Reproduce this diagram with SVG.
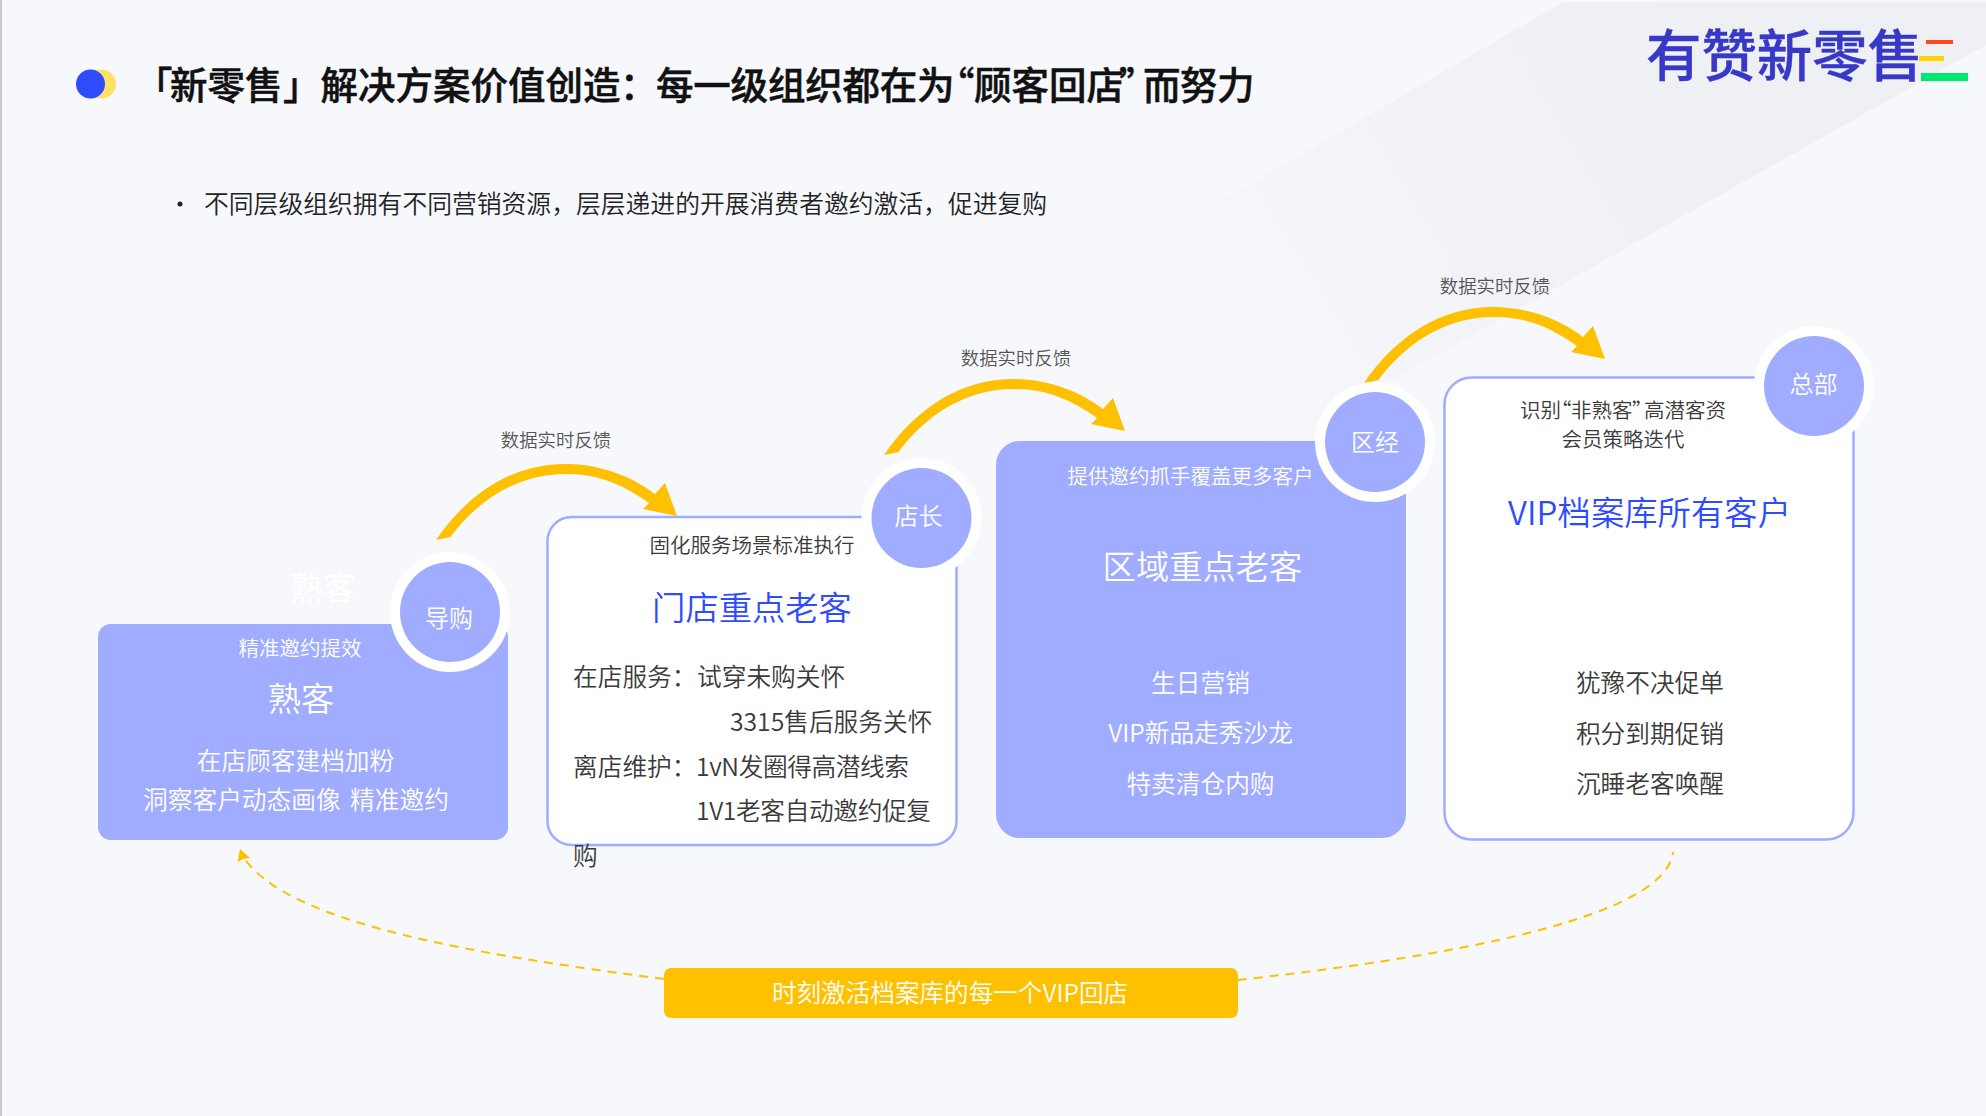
<svg xmlns="http://www.w3.org/2000/svg" width="1986" height="1116" viewBox="0 0 1986 1116">
<style>
text{font-family:"Noto Sans CJK SC","Noto Sans",sans-serif;font-weight:350}
.m{text-anchor:middle}
.w{fill:#fff}
.d{fill:#3a3a3a}
.b{fill:#2f4bff}
.l{fill:#555;font-size:18.4px}
.s20{font-size:20.5px}
.s24{font-size:24.7px}
.s32{font-size:33.3px}
.box{fill:#9facff}
.obox{fill:#fff;stroke:#9facff;stroke-width:2.5}
.halo{fill:#fff}
.c{fill:#9facff}
.flow{fill:#ffc000}
.dash{fill:none;stroke:#ffc000;stroke-width:2;stroke-dasharray:9 7}
</style>
<defs>
<linearGradient id="band" gradientUnits="userSpaceOnUse" x1="1760" y1="70" x2="1180" y2="420">
<stop offset="0" stop-color="#e9eaee" stop-opacity=".6"/>
<stop offset=".45" stop-color="#e9eaee" stop-opacity=".4"/>
<stop offset="1" stop-color="#e9eaee" stop-opacity="0"/>
</linearGradient>
<path id="swoosh" d="M436,540C470,490 517,463 568,464C602,465 631,476 655,494L665,483L677,516L643,509L649,503C625,486 600,474 568,474C522,473 480,497 450.5,537Z"/>
</defs>
<rect width="1986" height="1116" fill="#f6f8fc"/>
<rect width="2" height="1116" fill="#c9c9cd"/>
<polygon points="1563,2 1986,2 1986,45 1180,500 1000,330" fill="url(#band)"/>
<g id="header">
<circle cx="101.500" cy="84" r="14.500" fill="#ffe066"/>
<circle cx="90.500" cy="84" r="14.500" fill="#2f4bff"/>
<text y="99" font-size="37.500" fill="#111" stroke="#111" stroke-width=".5" style="font-weight:500" x="135 170 207.500 245 283 320.500 358 395.500 433 470.500 508 545.500 583 620 656 693.300 730.600 767.900 805.200 842.500 879.800 917.100 937 974 1011.500 1049 1086.500 1119 1143 1180 1217">「新零售」解决方案价值创造：每一级组织都在为“顾客回店”而努力</text>
<circle cx="180" cy="204" r="2.500" fill="#222"/>
<text x="204" y="213" font-size="24.800" fill="#222">不同层级组织拥有不同营销资源，层层递进的开展消费者邀约激活，促进复购</text>
</g>
<g id="logo">
<text x="1646" y="76" font-size="55.400" fill="#3838c8" stroke="#3838c8" stroke-width=".4" style="font-weight:500">有赞新零售</text>
<rect x="1926" y="40" width="27" height="4" fill="#ff4a1c"/>
<rect x="1919" y="56" width="25" height="5" fill="#ffd400"/>
<rect x="1921" y="73" width="47" height="8" fill="#00e874"/>
</g>
<g id="connectors">
<use href="#swoosh" class="flow"/>
<use href="#swoosh" class="flow" x="448" y="-85"/>
<use href="#swoosh" class="flow" x="928" y="-157"/>
<path class="dash" d="M664,979C480,955 290,925 244,858"/>
<polygon class="flow" points="240,849 250,858 243.500,859 237.500,862"/>
<path class="dash" d="M1238,980C1400,962 1665,925 1673,852"/>
</g>
<g id="labels">
<text class="l m" x="556" y="446.500">数据实时反馈</text>
<text class="l m" x="1016" y="364.500">数据实时反馈</text>
<text class="l m" x="1495" y="293">数据实时反馈</text>
</g>
<g id="node-shuke">
<text class="w m" x="323" y="600" font-size="33">熟客</text>
<rect class="box" x="98" y="624" width="410" height="216" rx="13"/>
<circle class="halo" cx="450" cy="612" r="60"/>
<circle class="c" cx="450" cy="612" r="50"/>
<text class="w m" x="449" y="626.500" font-size="24">导购</text>
<text class="w m s20" x="300" y="656">精准邀约提效</text>
<text class="w m s32" x="301" y="711">熟客</text>
<text class="w m s24" x="295.500" y="769.500">在店顾客建档加粉</text>
<text class="w m s24" x="296" y="808.500" word-spacing="4">洞察客户动态画像 精准邀约</text>
</g>
<g id="node-mendian">
<rect class="obox" x="547.500" y="517" width="409" height="328" rx="24"/>
<circle class="halo" cx="921.500" cy="518" r="60"/>
<circle class="c" cx="921.500" cy="518" r="50"/>
<text class="w m" x="918.500" y="525" font-size="24">店长</text>
<text class="d m s20" x="752" y="553">固化服务场景标准执行</text>
<text class="b m s32" x="752" y="619.500">门店重点老客</text>
<text class="d s24" x="573" y="686">在店服务：</text>
<text class="d s24" x="697" y="686">试穿未购关怀</text>
<text class="d s24" x="730" y="731">3315售后服务关怀</text>
<text class="d s24" x="573" y="776">离店维护：</text>
<text class="d s24" x="696" y="776" textLength="213">1vN发圈得高潜线索</text>
<text class="d s24" x="696" y="820" textLength="235">1V1老客自动邀约促复</text>
<text class="d s24" x="573" y="865">购</text>
</g>
<g id="node-quyu">
<rect class="box" x="996" y="441" width="410" height="397" rx="24"/>
<circle class="halo" cx="1375" cy="442" r="60"/>
<circle class="c" cx="1375" cy="442" r="50"/>
<text class="w m" x="1375" y="451" font-size="24">区经</text>
<text class="w m s20" x="1190.500" y="484">提供邀约抓手覆盖更多客户</text>
<text class="w m s32" x="1202.500" y="579">区域重点老客</text>
<text class="w m s24" x="1200.500" y="691.500">生日营销</text>
<text class="w m s24" x="1200.500" y="741.500">VIP新品走秀沙龙</text>
<text class="w m s24" x="1200.500" y="792.500">特卖清仓内购</text>
</g>
<g id="node-vip">
<rect class="obox" x="1444.500" y="377.500" width="409" height="462" rx="27"/>
<circle class="halo" cx="1814" cy="386" r="60"/>
<circle class="c" cx="1814" cy="386" r="50"/>
<text class="w m" x="1813.500" y="392.500" font-size="24">总部</text>
<text class="d s20" y="418" x="1520 1540.500 1551 1571 1591.500 1612 1632 1644 1664.500 1685 1705.500">识别“非熟客”高潜客资</text>
<text class="d m s20" x="1623" y="446.500">会员策略迭代</text>
<text class="b s32" x="1508" y="525" textLength="283">VIP档案库所有客户</text>
<text class="d m s24" x="1650" y="691.500">犹豫不决促单</text>
<text class="d m s24" x="1650" y="742.500">积分到期促销</text>
<text class="d m s24" x="1650" y="792.500">沉睡老客唤醒</text>
</g>
<g id="node-activate">
<rect x="664" y="968" width="574" height="50" rx="7" fill="#ffc000"/>
<text class="w m" x="950" y="1001.500" font-size="24.600">时刻激活档案库的每一个VIP回店</text>
</g>
</svg>
